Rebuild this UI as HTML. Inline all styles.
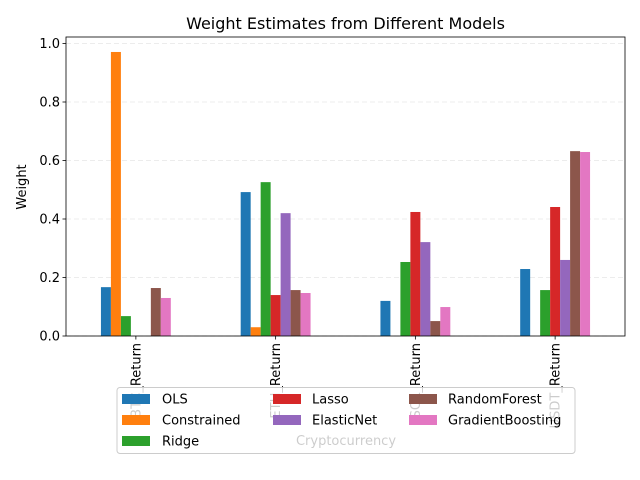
<!DOCTYPE html>
<html><head><meta charset="utf-8"><style>
body{margin:0;background:#fff}
svg{display:block;font-family:"DejaVu Sans","Liberation Sans",sans-serif}
</style></head><body>
<svg id="chart" width="640" height="480" viewBox="0 0 640 480" xmlns="http://www.w3.org/2000/svg">
<rect width="640" height="480" fill="#fff"/>
<text x="345.5" y="29" font-size="16" text-anchor="middle" fill="#000">Weight Estimates from Different Models</text>
<text transform="translate(26,187) rotate(-90)" font-size="13" text-anchor="middle" fill="#000">Weight</text>
<g id="grid"></g><g id="bars"></g><g id="axes"></g>
</svg>
<script>
const categories = ["BTC_Return","ETH_Return","SOL_Return","USDT_Return"];
const models = ["OLS","Constrained","Ridge","Lasso","ElasticNet","RandomForest","GradientBoosting"];
const colors = ["#1f77b4","#ff7f0e","#2ca02c","#d62728","#9467bd","#8c564b","#e377c2"];
const OLS = [0.167,0.492,0.12,0.229];
const Constrained = [0.971,0.03,0,0];
const Ridge = [0.068,0.526,0.253,0.157];
const Lasso = [0,0.14,0.424,0.441];
const ElasticNet = [0,0.42,0.321,0.26];
const RandomForest = [0.164,0.157,0.051,0.632];
const GradientBoosting = [0.13,0.147,0.099,0.629];
const yTicks = [0,0.2,0.4,0.6,0.8,1.0];
const yTickLabels = ["0.0","0.2","0.4","0.6","0.8","1.0"];
const series = [OLS,Constrained,Ridge,Lasso,ElasticNet,RandomForest,GradientBoosting];

const NS="http://www.w3.org/2000/svg";
const L=66,R=625,T=37,B=336;
const y=v=>B-v*292.5;
const x=u=>L+(u+0.5)*(R-L)/categories.length;
function mk(tag,attrs,parent,text){const e=document.createElementNS(NS,tag);for(const k in attrs)e.setAttribute(k,attrs[k]);if(text!==undefined)e.textContent=text;parent.appendChild(e);return e;}
const svg=document.getElementById('chart');
const grid=document.getElementById('grid'),bars=document.getElementById('bars'),axes=document.getElementById('axes');
yTicks.forEach((t,i)=>{
  const g=mk('line',{x1:L,x2:R,y1:y(t),y2:y(t),stroke:'#b0b0b0','stroke-opacity':0.3,'stroke-dasharray':'5,3','stroke-width':0.8},grid);
  
  
  const tk=mk('line',{x1:L-3.5,x2:L,y1:y(t),y2:y(t),stroke:'#000','stroke-width':0.8},axes);
  
  
  const lb=mk('text',{x:L-6,y:y(t)+4.5,'font-size':13,'text-anchor':'end',fill:'#000'},axes,yTickLabels[i]);
  
  
});
const unit=(R-L)/categories.length, bw=unit*0.5/models.length;
categories.forEach((c,ci)=>{
  series.forEach((s,si)=>{
    const bx=x(ci)-unit*0.25+si*bw;
    const r=mk('rect',{x:bx,y:y(s[ci]),width:bw,height:B-y(s[ci]),fill:colors[si]},bars);
    
    
  });
  const tk=mk('line',{x1:x(ci),x2:x(ci),y1:B,y2:B+3.5,stroke:'#000','stroke-width':0.8},axes);
  
  
  const lb=mk('text',{transform:`translate(${x(ci)+4.5},${B+7}) rotate(-90)`,'font-size':13,'text-anchor':'end',fill:'#000'},axes,c);
  
  
});
const fr=mk('rect',{x:L,y:T,width:R-L,height:B-T,fill:'none',stroke:'#000','stroke-width':0.8},axes);


const xl=mk('text',{x:346,y:445,'font-size':13,'text-anchor':'middle',fill:'#000'},axes,'Cryptocurrency');


const lg=mk('g',{},svg);


mk('rect',{x:117,y:387.5,width:458,height:66,rx:3,fill:'#fff','fill-opacity':0.8,stroke:'#ccc','stroke-width':1},lg);
const colX=[122,273,409], txtX=[162,312,448], rowY=[399,420,441];
const colOf=[0,0,0,1,1,2,2], rowOf=[0,1,2,0,1,0,1];
models.forEach((m,i)=>{
  const col=colOf[i], row=rowOf[i];
  const e=mk('g',{},lg);
  
  
  mk('rect',{x:colX[col],y:rowY[row]-5,width:28,height:10,fill:colors[i]},e);
  mk('text',{x:txtX[col],y:rowY[row]+4.5,'font-size':13,fill:'#000'},e,m);
});
</script>
</body></html>
